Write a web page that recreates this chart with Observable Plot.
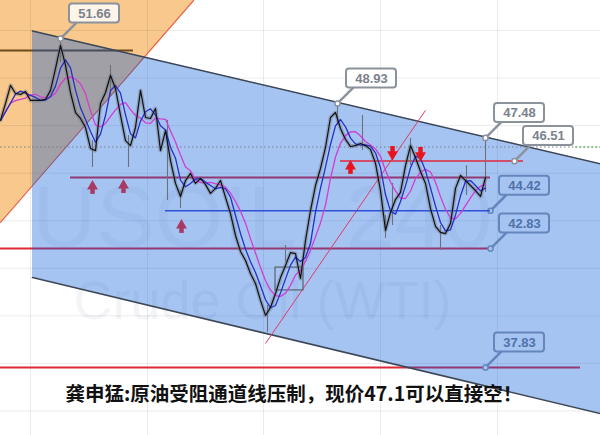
<!DOCTYPE html>
<html><head><meta charset="utf-8">
<script src="https://cdn.jsdelivr.net/npm/d3@7"></script>
<script src="https://cdn.jsdelivr.net/npm/@observablehq/plot@0.6"></script>
<style>html,body{margin:0;padding:0;background:#fff;overflow:hidden;}</style>
</head><body><div id="chart"></div>
<script>
// ---- data (bar index, price) ----
const closes = [48.22,48.93,49.69,49.35,49.31,49.43,49.06,49.06,49.06,49.10,
49.48,50.40,51.37,50.53,49.39,48.55,48.30,47.92,47.04,46.95,
48.93,49.39,50.11,49.56,48.43,47.37,47.16,47.92,49.48,48.34,
48.30,48.72,46.95,47.79,46.53,45.57,45.02,45.69,45.99,45.57,
45.78,45.52,45.15,45.36,45.69,44.98,44.30,43.38,42.71,42.33,
41.78,41.36,40.65,40.02,40.35,40.94,41.61,42.12,42.66,42.62,
41.57,43.17,44.43,45.48,46.20,47.08,48.34,48.55,47.88,47.42,
47.12,47.16,47.25,47.16,47.00,46.41,45.27,43.59,44.35,44.89,
45.19,46.32,47.16,46.66,46.07,45.57,44.51,43.76,43.51,43.46,
43.88,45.36,45.90,45.69,45.48,45.27,45.02,45.82];
const wickBar  = [12, 18.4, 25.6, 22, 33.4, 36, 53.4, 57, 67.4, 72.4, 78.4, 77, 82, 88, 93.2, 97];
const wickHigh = [51.66,47.37,47.58,50.53,48.22,45.27,40.44,42.96,48.93,48.43,45.57,44.22,47.46,43.80,46.32,47.48];
const wickLow  = [50.65,46.24,46.24,49.27,44.85,44.51,39.30,42.24,48.00,46.95,43.80,43.25,46.32,42.75,45.06,45.19];

const gridBars = [6, 29.4, 52.6, 76, 99.4];
const gridPrices = [52, 50, 48, 46, 44, 42, 40, 38, 36];

const channelBars = [6.4, 120];
const channelUpper = [51.98, 46.39];
const channelLower = [41.61, 35.89];

const orangeBars = [0, 38.6];
const orangeEdge = [43.93, 53.26];

const brownLevel = 51.16, brownBars = [0, 26.6];
const redUnderPrices = [45.82, 42.83, 37.83];
const redUnderStart = [14, 0, 0];
const redUnderEnd = [98, 98, 116];
const redOverPrice = 46.51, redOverBars = [68, 104.6];
const blueLevel = 44.42, blueBars = [33, 98];
const currentPrice = 47.1;

const trendBars = [53, 85];
const trendPrices = [38.84, 48.64];

const boxBars = [55, 60.6];
const boxPrices = [41.07, 42.03];

const labelsAbove = [51.66, 48.93, 47.48, 46.51];
const labelsAboveBar = [12, 67.4, 97, 102.8];
const labelsInside = [44.42, 42.83, 37.83];
const labelsInsideBar = [98, 98, 97];

const upMaroonBars = [18.4, 24.6, 36.2];
const upMaroonPrices = [45.36, 45.40, 43.72];
const upRedBars = [70];
const upRedPrices = [46.20];
const downRedBars = [78.4, 84];
const downRedPrices = [46.87, 46.83];

const watermark1 = "USOIL, 240";
const watermark2 = "Crude Oil (WTI)";
const caption = "龚申猛:原油受阻通道线压制，现价47.1可以直接空！";

// ---- scales ----
const W = 600, H = 435;
const xDom = [0, 120], yDom = [34.97, 53.26];
const kx = (xDom[1]-xDom[0])/W, ky = (yDom[1]-yDom[0])/H;

const channel = channelBars.map((b,i)=>({b, lo: channelLower[i], hi: channelUpper[i]}));
const orange = orangeBars.map((b,i)=>({b, lo: orangeEdge[i], hi: yDom[1]+1}));
const redUnder = redUnderPrices.map((p,i)=>({p, x1: redUnderStart[i], x2: redUnderEnd[i]}));
const wicks = wickBar.map((b,i)=>({b, hi: wickHigh[i], lo: wickLow[i]}));
const mkLabels = (vals, bars) => vals.map((p,i)=>({
  b: bars[i], p, text: p.toFixed(2),
  x1: bars[i] + 9*kx, x2: bars[i] + 59*kx, y1: p + 15.5*ky, y2: p + 34.5*ky,
  tx: bars[i] + 16*kx, ty: p + 16*ky
}));
const labA = mkLabels(labelsAbove, labelsAboveBar);
const labI = mkLabels(labelsInside, labelsInsideBar);
const arrows = (bars, prices, dir) => bars.map((b,i)=>({b, p: prices[i], p2: prices[i] - dir*6*ky}));
const upM = arrows(upMaroonBars, upMaroonPrices, 1);
const upR = arrows(upRedBars, upRedPrices, 1);
const dnR = arrows(downRedBars, downRedPrices, -1);

const labelMarks = (data, fill, fillOpacity, stroke, textFill) => [
  Plot.link(data, {x1:"b", y1:"p", x2:"tx", y2:"ty", stroke, strokeWidth: 2.5}),
  Plot.rect(data, {x1:"x1", x2:"x2", y1:"y1", y2:"y2", fill, fillOpacity, stroke, strokeWidth: 2, rx: 3}),
  Plot.text(data, {x:"b", y:"p", text:"text", dx: 34, dy: -25, fill: textFill, fontSize: 13, fontWeight: "bold", fontFamily: "Liberation Sans, Arial, sans-serif"}),
  Plot.dot(data, {x:"b", y:"p", r: 2.6, fill: "white", stroke, strokeWidth: 1.5})
];

const arrowMarks = (data, color, rot) => [
  Plot.ruleX(data, {x:"b", y1:"p", y2:"p2", stroke: color, strokeWidth: 4.5}),
  Plot.dot(data, {x:"b", y:"p", symbol: "triangle2", r: 5.2, fill: color, rotate: rot, dy: rot ? 2 : -2})
];

const chart = Plot.plot({
  width: W, height: H, margin: 0,
  x: {domain: xDom, axis: null},
  y: {domain: yDom, axis: null},
  style: {background: "white", overflow: "hidden"},
  marks: [
    // orange zone
    Plot.areaY(orange, {x:"b", y1:"lo", y2:"hi", fill: "#f9c88c"}),
    // grid
    Plot.ruleX(gridBars, {stroke: "#000", strokeOpacity: 0.08}),
    Plot.ruleY(gridPrices, {stroke: "#000", strokeOpacity: 0.08}),
    // watermarks
    Plot.text([watermark1], {frameAnchor: "top-left", textAnchor: "middle", dx: 262, dy: 184, fontSize: 88, fill: "#3a4a70", fillOpacity: 0.05, fontFamily: "Liberation Sans, Arial, sans-serif"}),
    Plot.text([watermark2], {frameAnchor: "top-left", textAnchor: "middle", dx: 262, dy: 280, fontSize: 54, fill: "#3a4a70", fillOpacity: 0.06, fontFamily: "Liberation Sans, Arial, sans-serif"}),
    // lines beneath the channel fill
    Plot.line(orange, {x:"b", y:"lo", stroke: "#e8603a", strokeWidth: 1.2}),
    Plot.ruleY([brownLevel], {x1: brownBars[0], x2: brownBars[1], stroke: "#6e4a18", strokeWidth: 2}),
    Plot.ruleY(redUnder, {y:"p", x1:"x1", x2:"x2", stroke: "#e0283c", strokeWidth: 2}),
    ...labelMarks(labI, "white", 1, "#98a0ac", "#7a828e"),
    // channel fill
    Plot.areaY(channel, {x:"b", y1:"lo", y2:"hi", fill: "rgb(1,86,218)", fillOpacity: 0.35}),
    // channel borders
    Plot.line(channel, {x:"b", y:"hi", stroke: "#3b4656", strokeWidth: 1.6}),
    Plot.line(channel, {x:"b", y:"lo", stroke: "#3b4656", strokeWidth: 1.6}),
    // current price dotted
    Plot.ruleY([currentPrice], {stroke: "#7a7f88", strokeWidth: 1, strokeDasharray: "1.5,2.5"}),
    Plot.ruleY([currentPrice], {x1: 115, x2: 120, stroke: "#3cb043", strokeWidth: 1, strokeDasharray: "1.5,2.5"}),
    // trend line and box
    Plot.link([0], {x1: trendBars[0], y1: trendPrices[0], x2: trendBars[1], y2: trendPrices[1], stroke: "#e03a66", strokeWidth: 1}),
    Plot.rect([0], {x1: boxBars[0], x2: boxBars[1], y1: boxPrices[0], y2: boxPrices[1], fill: "none", stroke: "#5a6270", strokeWidth: 1.2}),
    // levels over
    Plot.ruleY([redOverPrice], {x1: redOverBars[0], x2: redOverBars[1], stroke: "#e0283c", strokeWidth: 1.6}),
    Plot.ruleY([blueLevel], {x1: blueBars[0], x2: blueBars[1], stroke: "#2f4fd6", strokeWidth: 1.5}),
    // price
    Plot.lineY(closes, {x: (d,i)=>i, y: d=>d, stroke: "#6a717c", strokeOpacity: 0.4, strokeWidth: 4}),
    Plot.ruleX(wicks, {x:"b", y1:"lo", y2:"hi", stroke: "#6a717c", strokeWidth: 1.1}),
    Plot.lineY(closes, Plot.windowY({k: 6, anchor: "end", reduce: "mean"}, {x: (d,i)=>i, y: d=>d, stroke: "#d23cd2", strokeWidth: 1.3})),
    Plot.lineY(closes, Plot.windowY({k: 3, anchor: "end", reduce: "mean"}, {x: (d,i)=>i, y: d=>d, stroke: "#2630c8", strokeWidth: 1.3})),
    Plot.lineY(closes, {x: (d,i)=>i, y: d=>d, stroke: "#111", strokeWidth: 1.2}),
    // arrows
    ...arrowMarks(upM, "#a83a66", 0),
    ...arrowMarks(upR, "#e8141e", 0),
    ...arrowMarks(dnR, "#e8141e", 180),
    // top labels
    ...labelMarks(labA, "white", 0.82, "#8a929c", "#7a828e"),
    // caption
    Plot.text([caption], {frameAnchor: "bottom-left", textAnchor: "start", lineAnchor: "middle", dx: 65, dy: -41, fontSize: 19.5, fontWeight: "bold", fill: "#111", fontFamily: "Noto Sans CJK SC, sans-serif"})
  ]
});
document.getElementById("chart").appendChild(chart);
</script>
</body></html>
